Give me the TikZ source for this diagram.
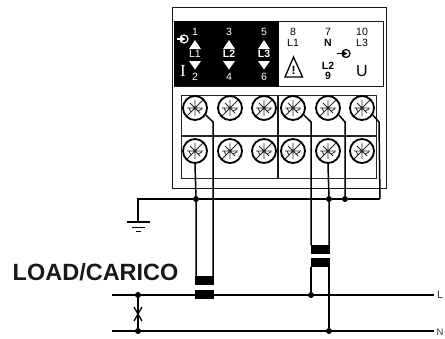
\documentclass[tikz,border=0pt]{standalone}
\usepackage{fontspec}
\setmainfont{Liberation Sans}
\newfontfamily\serifI{Liberation Serif}
\usetikzlibrary{calc}
\tikzset{
  box/.style={draw=black!90,line width=1.4pt},
  thinbox/.style={draw=black!85,line width=1.1pt},
  wire/.style={draw=black,line width=1.5pt,line join=miter},
  dot/.style={circle,fill=black,inner sep=0pt,minimum size=6pt},
  core/.style={rectangle,fill=black,inner sep=0pt},
  small/.style={font=\fontsize{10.5}{11}\selectfont,inner sep=0pt,text=black},
  smallb/.style={small,font=\fontsize{10.5}{11}\bfseries\selectfont},
  smallw/.style={small,text=white},
  smallwb/.style={smallw,font=\fontsize{10.5}{11}\bfseries\selectfont},
  screw/.style={circle,draw=black,line width=1.8pt,minimum size=24pt,inner sep=0pt,
    path picture={
      \draw[black!85,line width=0.8pt]
        ($(path picture bounding box.center)+(-8,0)$) -- ++(16,0)
        ($(path picture bounding box.center)+(0,-8)$) -- ++(0,16)
        ($(path picture bounding box.center)+(-5,-5)$) -- ++(10,10)
        ($(path picture bounding box.center)+(-9,9)$) -- ++(18,-18)
        ($(path picture bounding box.center)+(3,3)$) -- ++(4,-2)
        ($(path picture bounding box.center)+(-6,0)$) -- ++(2,4);
    }},
}
\begin{document}
\begin{tikzpicture}[x=1pt,y=-1pt]
\useasboundingbox (0,0) rectangle (445,338);
% housing
\node[box,rectangle,minimum width=213.5pt,minimum height=181pt,inner sep=0pt,anchor=north west] (housing) at (172,7) {};
\node[box,rectangle,minimum width=209pt,minimum height=65pt,inner sep=0pt,anchor=north west] (panel) at (174,21) {};
\node[rectangle,fill=black,minimum width=105pt,minimum height=65pt,inner sep=0pt,anchor=north west] (blackpanel) at (174,21) {};
% terminal block
\node[thinbox,rectangle,minimum width=195pt,minimum height=83pt,inner sep=0pt,anchor=north west] (block) at (181,95) {};
\draw[thinbox] (181,136) -- (376,136);
\draw[box,line width=1.7pt] (278,94.5) -- (278,178);
% screws
\foreach \n/\x in {1/195,2/230,3/264,4/293,5/328,6/362}{
  \node[screw] (t\n) at (\x,108) {};
  \node[screw] (b\n) at (\x,151) {};
}
% black panel texts
\foreach \n/\t/\x/\y in {a/1/195/32,b/3/229/32,c/5/264/32,d/2/195/77,e/4/229/77,f/6/264/77}{
  \node[smallw] (num\n) at (\x,\y) {\t};
}
\node[smallw] (l1) at (195,54) {L1};
\node[smallwb] (l2) at (229,54) {L2};
\node[smallwb] (l3) at (264,54) {L3};
\foreach \x in {195,229,264}{
  \fill[white] (\x-6,49) -- (\x,40) -- (\x+6,49) -- cycle;
  \fill[white] (\x-6,61) -- (\x,69.5) -- (\x+6,61) -- cycle;
}
\node[font=\serifI\fontsize{17}{17}\selectfont,text=white,inner sep=0pt] (itext) at (183,71) {I};
% input symbol
\node[circle,draw=white,line width=1.2pt,minimum size=8pt,inner sep=0pt] (insym) at (184,39) {};
\draw[white,line width=1.2pt] (176.5,39) -- (insym.center);
\fill[white] (181,36.5) -- (185.5,39) -- (181,41.5) -- cycle;
% white panel texts
\node[small] (n8) at (293,32) {8};
\node[small] (tl1) at (293,43) {L1};
\node[small] (n7) at (328,32) {7};
\node[smallb] (tn) at (328,43) {N};
\node[small] (n10) at (362,32) {10};
\node[small] (tl3) at (362,43) {L3};
\node[smallb] (tl2) at (328,65.5) {L2};
\node[smallb] (n9) at (328,76) {9};
\node[font=\fontsize{16}{16}\selectfont,inner sep=0pt] (utext) at (362,71) {U};
% output symbol
\node[circle,draw=black,line width=1.2pt,minimum size=8pt,inner sep=0pt] (outsym) at (346,53.5) {};
\draw[black,line width=1.2pt] (336.5,53.5) -- (outsym.center);
\fill[black] (343,51) -- (347.5,53.5) -- (343,56) -- cycle;
% warning
\draw[black,line width=1.3pt,line join=miter] (285,77) -- (293.5,57) -- (302.5,77) -- cycle;
\node[font=\bfseries\fontsize{12}{12}\selectfont,inner sep=0pt] (warn) at (293.5,70) {!};
% ground
\coordinate (gtop) at (138,199);
\coordinate (gnd) at (138,222);
\coordinate (busend) at (380,199);
\node[dot] (j1) at (196,199) {};
\node[dot] (j2) at (329,199) {};
\node[dot] (j3) at (345,199) {};
\draw[wire] (gnd) -- (gtop) -- (j1) -- (j2) -- (j3) -- (busend);
\draw[wire] (127,222) -- (150,222);
\draw[wire] (131.5,227.5) -- (145,227.5);
\draw[wire] (136,231.5) -- (141,231.5);
% transformer cores
\node[core,minimum width=19.5pt,minimum height=9.5pt] (c1u) at (204.5,280.5) {};
\node[core,minimum width=19.5pt,minimum height=9.5pt] (c1l) at (204.5,294.5) {};
\node[core,minimum width=19.5pt,minimum height=9pt] (c2u) at (320.5,249) {};
\node[core,minimum width=19.5pt,minimum height=9.5pt] (c2l) at (320.5,262.5) {};
% lines L, N
\coordinate (lstart) at (112,295);
\coordinate (lend) at (434,295);
\coordinate (nstart) at (112,331);
\coordinate (nend) at (434,331);
\draw[wire] (lstart) -- (lend);
\draw[wire] (nstart) -- (nend);
\node[font=\fontsize{11}{11}\selectfont,inner sep=0pt,anchor=west,text=black!80] (ll) at (437,295) {L};
\node[font=\fontsize{9.5}{10}\selectfont,inner sep=0pt,anchor=west,text=black!80] (ln) at (436.5,332) {N};
% wires from screws
\draw[wire] (b1.south) -- (j1) -- (196,276);
\draw[wire] (t1.-33) -- (213,122) -- (213,276);
\draw[wire] (t4.-33) -- (311,122) -- (311,245);
\draw[wire] (t5.-33) -- (345,122) -- (j3);
\draw[wire] (t6.-33) -- (379,122) -- (busend);
\draw[wire] (b5.south) -- (j2) -- (329,245);
% below second transformer
\node[dot] (jl) at (311,295) {};
\node[dot] (jn) at (329,331) {};
\draw[wire] (311,267) -- (jl);
\draw[wire] (329,267) -- (jn);
% switch
\node[dot] (s1) at (138,295) {};
\node[dot] (s2) at (138,331) {};
\draw[wire] (s1) -- (s2);
\draw[wire,line width=1.3pt] (134,307) -- (142,321);
\draw[wire,line width=1.3pt] (142,307) -- (134,321);
% caption
\node[font=\bfseries\fontsize{23.5}{24}\selectfont,inner sep=0pt,anchor=west,text=black!90] (load) at (12.5,272) {LOAD/CARICO};
\end{tikzpicture}
\end{document}
